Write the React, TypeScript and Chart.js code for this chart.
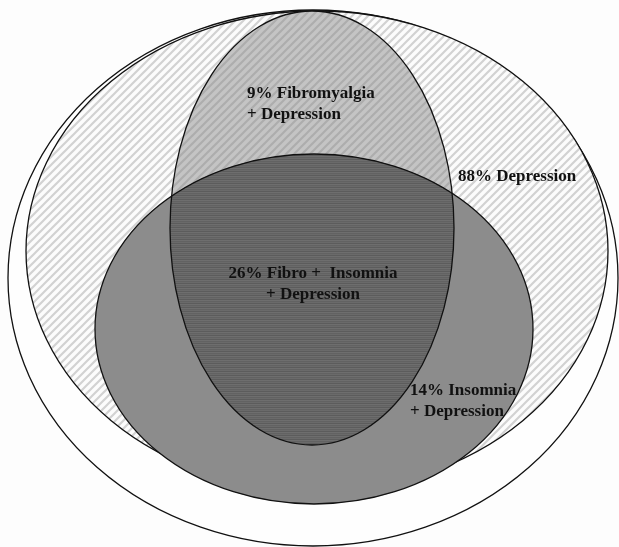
import React, { useEffect, useRef } from "react";
import { Chart, registerables } from "chart.js";

Chart.register(...registerables);

// Venn sets (data units: x 0..619, y 0..547, y downward)
const setNames = ["All patients", "88% Depression", "Fibromyalgia", "Insomnia"];
const centerX = [313, 317, 312, 314];
const centerY = [278, 251, 228, 329];
const radiusX = [305, 291, 142, 219];
const radiusY = [268, 240, 217, 175];

// Region labels
const labelLines = [
  ["9% Fibromyalgia", "+ Depression"],
  ["88% Depression"],
  ["26% Fibro +  Insomnia", "+ Depression"],
  ["14% Insomnia", "+ Depression"],
];
const labelX = [247, 458, 313, 410];
const labelY = [94, 177, 274, 391];
const labelAlign = ["left", "left", "center", "left"];

function stripePattern(ctx: CanvasRenderingContext2D, bg: string, fg: string, size: number, lw: number) {
  const c = document.createElement("canvas");
  c.width = size;
  c.height = size;
  const g = c.getContext("2d")!;
  g.fillStyle = bg;
  g.fillRect(0, 0, size, size);
  g.strokeStyle = fg;
  g.lineWidth = lw;
  g.beginPath();
  g.moveTo(-size, size * 2);
  g.lineTo(size * 2, -size);
  g.moveTo(-size, size);
  g.lineTo(size, -size);
  g.moveTo(0, size * 2);
  g.lineTo(size * 2, 0);
  g.stroke();
  return ctx.createPattern(c, "repeat")!;
}

function linePattern(ctx: CanvasRenderingContext2D, rows: string[]) {
  const c = document.createElement("canvas");
  c.width = 4;
  c.height = rows.length;
  const g = c.getContext("2d")!;
  rows.forEach((col, i) => {
    g.fillStyle = col;
    g.fillRect(0, i, 4, 1);
  });
  return ctx.createPattern(c, "repeat")!;
}

const vennPlugin = {
  id: "venn",
  beforeDatasetsDraw(chart: any) {
    const { ctx, scales } = chart;
    const xs = scales.x;
    const ys = scales.y;
    const ell = (i: number) => {
      const cx = xs.getPixelForValue(centerX[i]);
      const cy = ys.getPixelForValue(centerY[i]);
      const rx = Math.abs(xs.getPixelForValue(centerX[i] + radiusX[i]) - cx);
      const ry = Math.abs(ys.getPixelForValue(centerY[i] + radiusY[i]) - cy);
      ctx.beginPath();
      ctx.ellipse(cx, cy, rx, ry, 0, 0, Math.PI * 2);
    };
    ctx.save();
    ctx.fillStyle = "#fdfdfd";
    ctx.fillRect(0, 0, chart.width, chart.height);
    ctx.strokeStyle = "#111";
    ctx.lineWidth = 1.3;

    // outer
    ell(0);
    ctx.fillStyle = "#fefefe";
    ctx.fill();
    ctx.stroke();
    // depression (hatched)
    ell(1);
    ctx.fillStyle = stripePattern(ctx, "#fcfcfc", "#d2d2d2", 8, 2.2);
    ctx.fill();
    ctx.stroke();
    // fibromyalgia
    ell(2);
    ctx.fillStyle = stripePattern(ctx, "#c4c4c4", "#adadad", 8, 2.2);
    ctx.fill();
    // insomnia
    ell(3);
    ctx.fillStyle = "#8c8c8c";
    ctx.fill();
    // intersection fibro & insomnia
    ctx.save();
    ell(2);
    ctx.clip();
    ell(3);
    ctx.fillStyle = linePattern(ctx, ["#6e6e6e", "#626262", "#6a6a6a", "#5c5c5c"]);
    ctx.fill();
    ctx.restore();

    // outlines of fibromyalgia and insomnia
    ell(2);
    ctx.stroke();
    ell(3);
    ctx.stroke();

    // labels
    ctx.fillStyle = "#111";
    ctx.font = "bold 17px 'Liberation Serif', 'Times New Roman', serif";
    ctx.textBaseline = "middle";
    labelLines.forEach((lines, i) => {
      ctx.textAlign = labelAlign[i];
      lines.forEach((t, j) => {
        ctx.fillText(t, xs.getPixelForValue(labelX[i]), ys.getPixelForValue(labelY[i] + j * 20.5));
      });
    });
    ctx.restore();
  },
};

export default function App() {
  const ref = useRef<HTMLCanvasElement>(null);
  useEffect(() => {
    document.body.style.margin = "0";
    const chart = new Chart(ref.current!, {
      type: "scatter",
      data: {
        datasets: [
          {
            label: "Sets",
            data: centerX.map((cx, i) => ({ x: cx, y: centerY[i] })),
            pointRadius: 0,
            showLine: false,
          },
        ],
      },
      options: {
        responsive: false,
        maintainAspectRatio: false,
        animation: false,
        layout: { padding: 0 },
        events: [],
        scales: {
          x: { type: "linear", min: 0, max: 619, display: false },
          y: { type: "linear", min: 0, max: 547, reverse: true, display: false },
        },
        plugins: { legend: { display: false }, tooltip: { enabled: false } },
      },
      plugins: [vennPlugin],
    });
    return () => chart.destroy();
  }, []);
  return (
    <div style={{ width: 619, height: 547 }}>
      <canvas ref={ref} width={619} height={547} style={{ display: "block" }} />
    </div>
  );
}
